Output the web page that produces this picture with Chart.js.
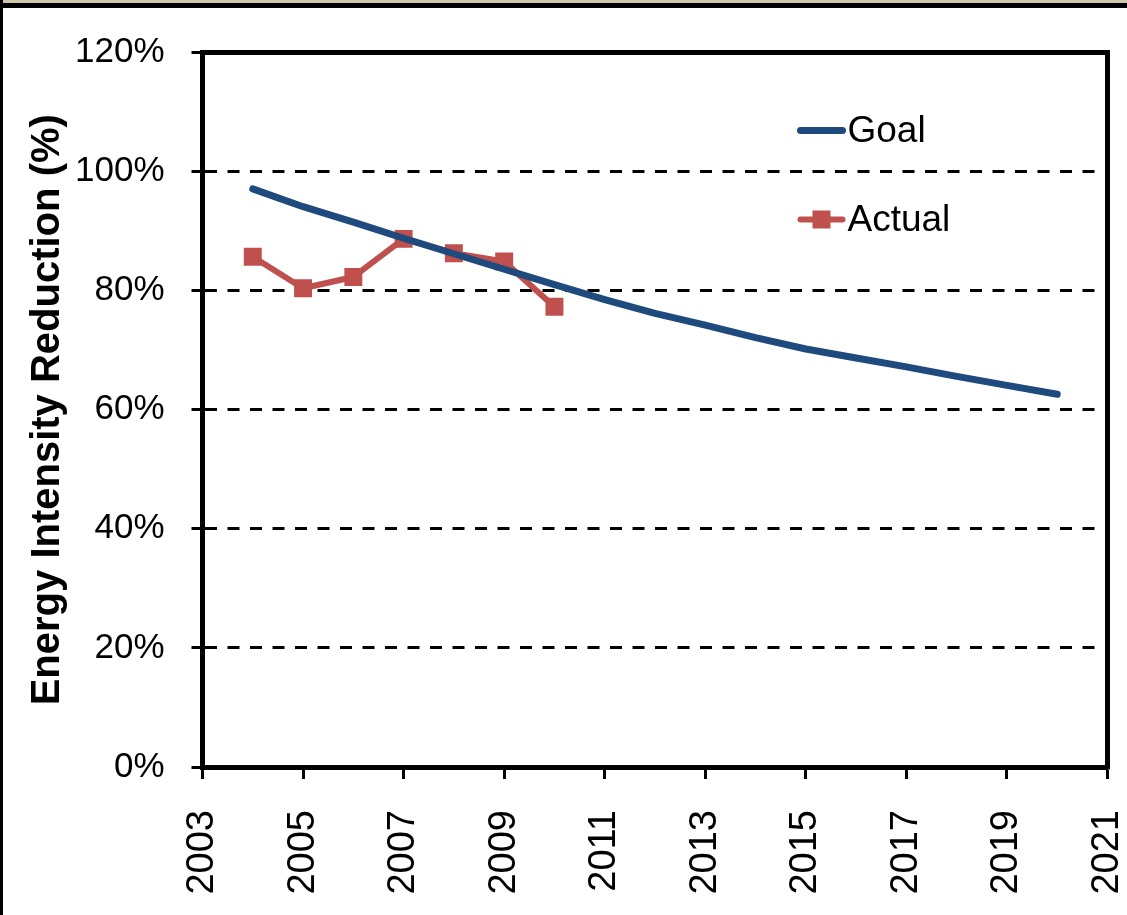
<!DOCTYPE html>
<html>
<head>
<meta charset="utf-8">
<script src="https://cdn.jsdelivr.net/npm/chart.js@4"></script>
<style>
  html, body { margin: 0; padding: 0; background: #fff; }
  #wrap { position: relative; width: 1127px; height: 915px; }
</style>
</head>
<body>
<div id="wrap"><canvas id="c" width="1127" height="915"></canvas></div>
<script>
// ---- data ----
const goalYears = [2004, 2005, 2006, 2007, 2008, 2009, 2010, 2011, 2012, 2013, 2014, 2015, 2016, 2017, 2018, 2019, 2020];
const goalValues = [97.1, 94.1, 91.5, 88.8, 86.2, 83.6, 81.0, 78.5, 76.2, 74.2, 72.1, 70.2, 68.7, 67.2, 65.6, 64.1, 62.6];
const actualYears = [2004, 2005, 2006, 2007, 2008, 2009, 2010];
const actualValues = [85.7, 80.4, 82.3, 88.7, 86.3, 84.9, 77.3];
const seriesNames = ['Goal', 'Actual'];
const yAxisTitle = 'Energy Intensity Reduction (%)';
const xMin = 2003, xMax = 2021, xStep = 2;
const yMin = 0, yMax = 120, yStep = 20;

const GOAL_COLOR = '#1F4A7E';
const ACTUAL_COLOR = '#C0504D';
const REGULAR = '"Liberation Sans", Arial, sans-serif';

const toXY = (xs, ys) => xs.map((x, i) => ({ x: x, y: ys[i] }));

const framePlugin = {
  id: 'frame',
  beforeDraw(chart) {
    const ctx = chart.ctx;
    ctx.save();
    ctx.fillStyle = '#ffffff';
    ctx.fillRect(0, 0, chart.width, chart.height);
    ctx.fillStyle = '#cfc6ad';
    ctx.fillRect(0, 0, chart.width, 3);
    ctx.fillStyle = '#000000';
    ctx.fillRect(0, 3, chart.width, 5);
    ctx.fillRect(0, 0, 3, chart.height);
    ctx.restore();
  },
  afterDraw(chart) {
    const ctx = chart.ctx;
    const a = chart.chartArea;
    ctx.save();
    ctx.strokeStyle = '#000';
    ctx.lineWidth = 5;
    ctx.beginPath();
    ctx.moveTo(a.left - 2.5, a.top);
    ctx.lineTo(a.right, a.top);
    ctx.lineTo(a.right, a.bottom + 2.5);
    ctx.stroke();
    ctx.restore();
  }
};

const legendPlugin = {
  id: 'customLegend',
  afterDatasetsDraw(chart) {
    const ctx = chart.ctx;
    const a = chart.chartArea;
    const x0 = a.left + 598, x1 = a.left + 640, tx = a.left + 645;
    const rows = [a.top + 78, a.top + 167];
    chart.data.datasets.forEach((ds, i) => {
      const y = rows[i];
      ctx.save();
      ctx.strokeStyle = ds.borderColor;
      ctx.lineWidth = ds.borderWidth;
      ctx.lineCap = 'round';
      ctx.beginPath();
      ctx.moveTo(x0, y);
      ctx.lineTo(x1, y);
      ctx.stroke();
      if (ds.pointRadius > 0) {
        ctx.fillStyle = ds.pointBackgroundColor;
        const s = 18;
        ctx.fillRect((x0 + x1) / 2 - s / 2, y - s / 2, s, s);
      }
      ctx.fillStyle = '#000';
      ctx.font = '37px ' + REGULAR;
      ctx.textBaseline = 'middle';
      ctx.textAlign = 'left';
      ctx.fillText(ds.label, tx, y + 1);
      ctx.restore();
    });
  }
};

new Chart(document.getElementById('c'), {
  type: 'line',
  data: {
    datasets: [
      {
        label: seriesNames[0],
        data: toXY(goalYears, goalValues),
        borderColor: GOAL_COLOR,
        backgroundColor: GOAL_COLOR,
        borderWidth: 7,
        pointRadius: 0,
        borderCapStyle: 'round',
        borderJoinStyle: 'round',
        tension: 0
      },
      {
        label: seriesNames[1],
        data: toXY(actualYears, actualValues),
        borderColor: ACTUAL_COLOR,
        backgroundColor: ACTUAL_COLOR,
        pointBackgroundColor: ACTUAL_COLOR,
        pointBorderColor: ACTUAL_COLOR,
        borderWidth: 6,
        pointStyle: 'rect',
        pointRadius: 12.7,
        pointBorderWidth: 0,
        borderJoinStyle: 'round',
        tension: 0
      }
    ]
  },
  options: {
    responsive: false,
    animation: false,
    events: [],
    layout: { padding: { top: 52.5, right: 19.5, left: 0, bottom: 0 } },
    plugins: {
      legend: { display: false },
      tooltip: { enabled: false }
    },
    scales: {
      x: {
        type: 'linear',
        min: xMin,
        max: xMax,
        afterFit(scale) { scale.height = 148; scale.paddingLeft = 0; scale.paddingRight = 0; },
        ticks: {
          stepSize: xStep,
          minRotation: 90,
          maxRotation: 90,
          padding: 31,
          color: '#000',
          font: { family: REGULAR, size: 38 },
          callback: (v) => String(v)
        },
        grid: {
          drawOnChartArea: false,
          drawTicks: true,
          tickLength: 12,
          tickWidth: 3,
          tickColor: '#000'
        },
        border: { display: true, color: '#000', width: 5 }
      },
      y: {
        min: yMin,
        max: yMax,
        afterFit(scale) { scale.width = 202.5; scale.paddingTop = 0; scale.paddingBottom = 0; },
        ticks: {
          stepSize: yStep,
          padding: 27,
          color: '#000',
          font: { family: REGULAR, size: 35 },
          callback: (v) => v + '%'
        },
        grid: {
          color: (c) => (c.tick && (c.tick.value === yMin || c.tick.value === yMax)) ? 'rgba(0,0,0,0)' : '#000',
          lineWidth: 3,
          tickLength: 11,
          tickWidth: 3,
          tickColor: '#000'
        },
        border: { display: true, color: '#000', width: 5, dash: [12, 10.5] },
        title: {
          display: true,
          text: yAxisTitle,
          color: '#000',
          font: { family: REGULAR, size: 40, weight: 'bold' },
          padding: { top: 24, bottom: 0 }
        }
      }
    }
  },
  plugins: [framePlugin, legendPlugin]
});
</script>
</body>
</html>
